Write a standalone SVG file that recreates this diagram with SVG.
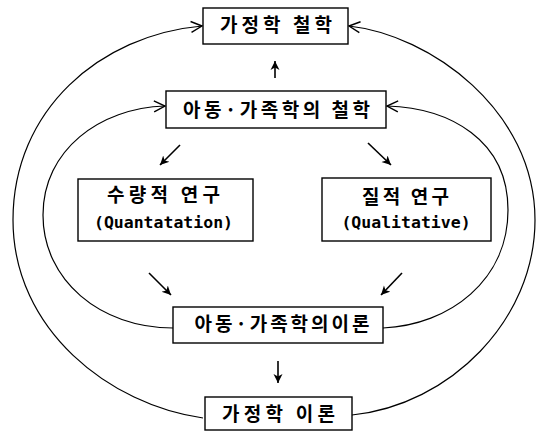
<svg xmlns="http://www.w3.org/2000/svg" width="541" height="432" viewBox="0 0 541 432">
<style>
  .box { fill: #fff; stroke: #000; stroke-width: 1.4; }
  .kr { font-family: "Noto Sans CJK KR", "Noto Sans", sans-serif; font-weight: 700; font-size: 19px; fill: #000; text-anchor: middle; }
  .en { font-family: "DejaVu Sans Mono", "Liberation Mono", monospace; font-weight: 700; font-size: 16.5px; fill: #000; text-anchor: middle; }
  .curve { fill: none; stroke: #000; stroke-width: 1.2; }
  .arr { fill: none; stroke: #000; stroke-width: 1.6; }
</style>
<defs>
  <marker id="chev" markerUnits="userSpaceOnUse" markerWidth="14" markerHeight="14" refX="12" refY="7" orient="auto" viewBox="0 0 14 14">
    <path d="M1,1.5 L12,7 L1,12.5" fill="none" stroke="#000" stroke-width="1.4"/>
  </marker>
  <marker id="head" markerUnits="userSpaceOnUse" markerWidth="10" markerHeight="10" refX="9" refY="5" orient="auto" viewBox="0 0 10 10">
    <path d="M0,0.5 L9,5 L0,9.5 L2.5,5 Z" fill="#000"/>
  </marker>
</defs>
<g id="connectors">
  <path class="curve" d="M203,418 C110,405 13,330 13,220 C13,110 100,35 202,26" marker-end="url(#chev)"/>
  <path class="curve" d="M173,328 C100,328 43,280 43,215 C43,150 100,108 165,106" marker-end="url(#chev)"/>
  <path class="curve" d="M352,415 C450,405 535,320 535,220 C535,110 430,35 349,26" marker-end="url(#chev)"/>
  <path class="curve" d="M383,328 C450,325 508,280 508,210 C508,140 450,108 387,106" marker-end="url(#chev)"/>
  <line class="arr" x1="275" y1="78" x2="275" y2="61" marker-end="url(#head)"/>
  <line class="arr" x1="180" y1="145" x2="160" y2="165" marker-end="url(#head)"/>
  <line class="arr" x1="368" y1="143" x2="391" y2="165" marker-end="url(#head)"/>
  <line class="arr" x1="149" y1="273" x2="171" y2="295" marker-end="url(#head)"/>
  <line class="arr" x1="402" y1="273" x2="381" y2="295" marker-end="url(#head)"/>
  <line class="arr" x1="278" y1="361" x2="278" y2="383" marker-end="url(#head)"/>
</g>
<g id="node-home-philosophy">
  <rect class="box" x="203" y="8" width="145" height="36"/>
  <text class="kr" x="276" y="32" textLength="112" lengthAdjust="spacing">가정학 철학</text>
</g>
<g id="node-child-family-philosophy">
  <rect class="box" x="166" y="91" width="220" height="37"/>
  <text class="kr" x="276.5" y="117" textLength="187" lengthAdjust="spacing">아동·가족학의 철학</text>
</g>
<g id="node-quantitative">
  <rect class="box" x="78" y="179" width="175" height="62"/>
  <text class="kr" x="163.5" y="202" textLength="113" lengthAdjust="spacing">수량적 연구</text>
  <text class="en" x="163.5" y="228">(Quantatation)</text>
</g>
<g id="node-qualitative">
  <rect class="box" x="322" y="178" width="169" height="63"/>
  <text class="kr" x="405.5" y="204" textLength="87" lengthAdjust="spacing">질적 연구</text>
  <text class="en" x="406" y="228">(Qualitative)</text>
</g>
<g id="node-child-family-theory">
  <rect class="box" x="173" y="307" width="210" height="36"/>
  <text class="kr" x="282" y="331" textLength="175" lengthAdjust="spacing">아동·가족학의이론</text>
</g>
<g id="node-home-theory">
  <rect class="box" x="205" y="397" width="147" height="33"/>
  <text class="kr" x="278.5" y="421" textLength="113" lengthAdjust="spacing">가정학 이론</text>
</g>
</svg>
